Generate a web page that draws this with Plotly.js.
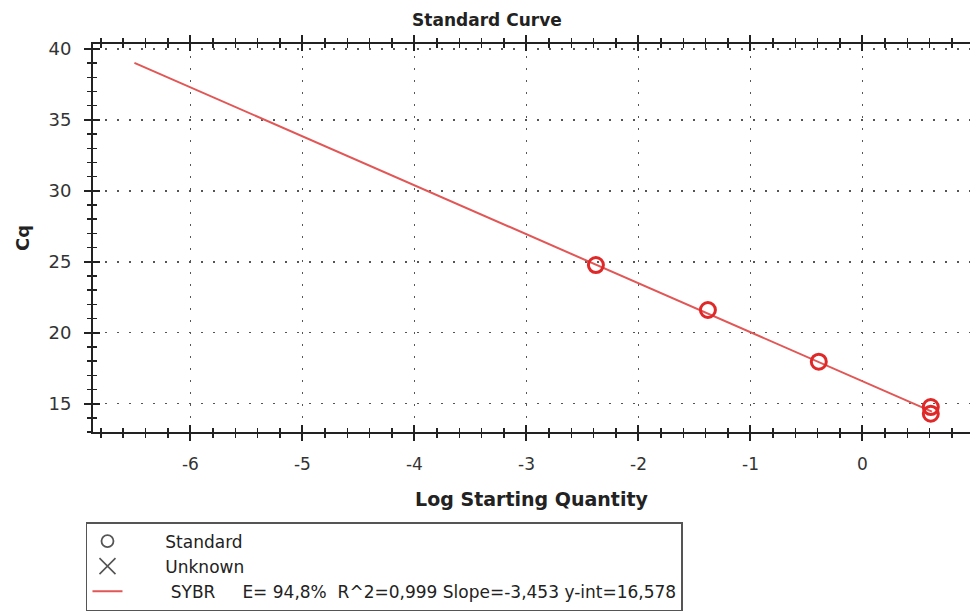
<!DOCTYPE html>
<html><head><meta charset="utf-8">
<script src="https://cdn.plot.ly/plotly-3.0.1.min.js"></script>
<style>html,body{margin:0;padding:0;background:#fff;overflow:hidden}</style>
</head><body><div id="chart" style="width:970px;height:614px"></div>
<script>
// Standard points (log starting quantity vs Cq)
const stdLogQty = [-2.38, -1.38, -0.39, 0.61, 0.61];
const stdCq = [24.77, 21.60, 17.96, 14.76, 14.29];
// Fit line end points (SYBR)
const fitLogQty = [-6.50, 0.62];
const fitCq = [39.02, 14.44];
// Ticks
const xTickVals = [-6, -5, -4, -3, -2, -1, 0, 1];
const yTickVals = [15, 20, 25, 30, 35, 40];
// Text
const chartTitle = 'Standard Curve';
const xTitle = 'Log Starting Quantity';
const yTitle = 'Cq';
const nameStandard = 'Standard';
const nameUnknown = 'Unknown';
const nameFit = 'SYBR';
const fitStats = 'E= 94,8%\u00a0\u00a0R^2=0,999 Slope=-3,453 y-int=16,578';

const FONT = '"DejaVu Sans", Verdana, sans-serif';
const INK = '#222';
const RED = '#e02828';
const pad = n => '\u00a0'.repeat(n);

const traces = [
  {x: fitLogQty, y: fitCq, type: 'scatter', mode: 'lines', name: pad(8) + nameFit + pad(5) + fitStats,
   line: {color: '#e25656', width: 2}, legendrank: 3, hoverinfo: 'skip'},
  {x: stdLogQty, y: stdCq, type: 'scatter', mode: 'markers', showlegend: false,
   marker: {symbol: 'circle-open', size: 15, color: RED, line: {width: 3, color: RED}}},
  {x: [null], y: [null], type: 'scatter', mode: 'markers', name: pad(7) + nameStandard, legendrank: 1,
   marker: {symbol: 'circle-open', size: 12, color: '#555', line: {width: 1.8, color: '#555'}}},
  {x: [null], y: [null], type: 'scatter', mode: 'markers', name: pad(7) + nameUnknown, legendrank: 2,
   xaxis: 'x2', yaxis: 'y2',
   marker: {symbol: 'x-thin-open', size: 16, color: '#555', line: {width: 1.6, color: '#555'}}}
];

const XR = [-6.87, 0.96], YR = [13.0, 40.35];
const tickfont = {family: FONT, size: 17, color: '#333'};
const gridStyle = {showgrid: true, gridcolor: '#555', gridwidth: 1.5, griddash: '2px,10px'};

const layout = {
  width: 970, height: 614,
  margin: {l: 93, r: 0, t: 44, b: 182},
  paper_bgcolor: '#fff', plot_bgcolor: '#fff',
  font: {family: FONT, color: INK},
  title: {text: '<b>' + chartTitle + '</b>', font: {family: FONT, size: 17, color: INK},
          xref: 'container', x: 0.502, xanchor: 'center', yref: 'container', y: 0.967, yanchor: 'middle'},
  xaxis: Object.assign({
    range: XR, tickmode: 'array', tickvals: xTickVals, ticktext: xTickVals.map(String),
    ticks: 'outside', ticklen: 7, tickwidth: 2, tickcolor: INK,
    showline: true, linecolor: INK, linewidth: 2, mirror: 'ticks', zeroline: false,
    minor: {tickmode: 'linear', tick0: 0, dtick: 0.2, ticks: 'outside', ticklen: 4, tickwidth: 1.5, tickcolor: INK, showgrid: false},
    tickfont: tickfont, ticklabelstandoff: 9,
    title: {text: '<b>' + xTitle + '</b>', font: {family: FONT, size: 19, color: INK}, standoff: 19}
  }, gridStyle),
  yaxis: Object.assign({
    range: YR, tickmode: 'array', tickvals: yTickVals, ticktext: yTickVals.map(String),
    ticks: 'outside', ticklen: 7, tickwidth: 2, tickcolor: INK,
    showline: true, linecolor: INK, linewidth: 2, mirror: false, zeroline: false,
    minor: {tickmode: 'linear', tick0: 0, dtick: 1, ticks: 'outside', ticklen: 4, tickwidth: 1.5, tickcolor: INK, showgrid: false},
    tickfont: {family: FONT, size: 18, color: '#333'}, ticklabelstandoff: 9,
    title: {text: '<b>' + yTitle + '</b>', font: {family: FONT, size: 18, color: INK}, standoff: 14}
  }, gridStyle),
  xaxis2: {
    overlaying: 'x', anchor: 'y2', range: XR, tickmode: 'array', tickvals: xTickVals,
    ticks: 'inside', ticklen: 7, tickwidth: 2, tickcolor: INK, mirror: 'ticks', showline: false,
    showticklabels: false, showgrid: false, zeroline: false,
    minor: {tickmode: 'linear', tick0: 0, dtick: 0.2, ticks: 'inside', ticklen: 4, tickwidth: 1.5, tickcolor: INK, showgrid: false}
  },
  yaxis2: {
    overlaying: 'y', anchor: 'x2', range: YR, tickmode: 'array', tickvals: yTickVals,
    ticks: 'inside', ticklen: 7, tickwidth: 2, tickcolor: INK, showline: false,
    showticklabels: false, showgrid: false, zeroline: false,
    minor: {tickmode: 'linear', tick0: 0, dtick: 1, ticks: 'inside', ticklen: 4, tickwidth: 1.5, tickcolor: INK, showgrid: false}
  },
  showlegend: true,
  legend: {x: -0.008, xanchor: 'left', y: -0.232, yanchor: 'top', bgcolor: '#fff',
           bordercolor: '#555', borderwidth: 1.5, font: {family: FONT, size: 17, color: INK},
           traceorder: 'normal'}
};

Plotly.newPlot('chart', traces, layout, {displayModeBar: false, staticPlot: true});
</script></body></html>
